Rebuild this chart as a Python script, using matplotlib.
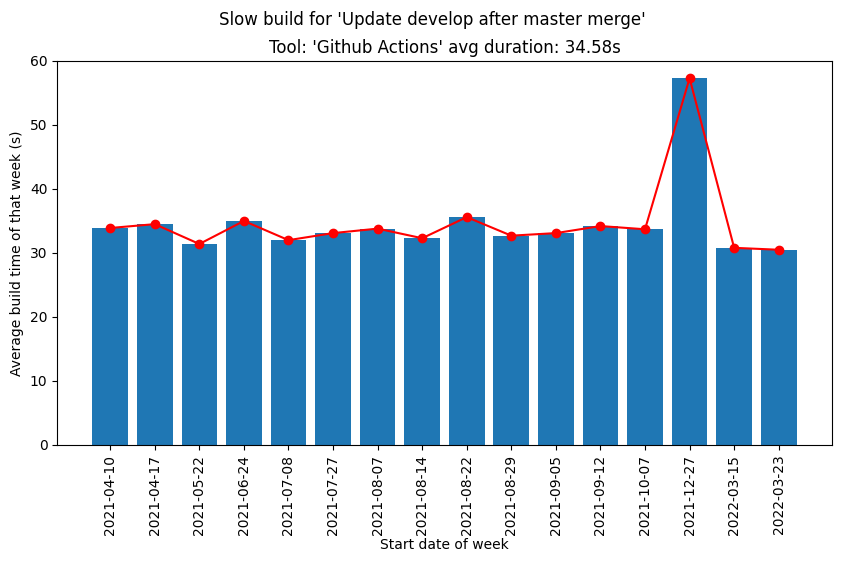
import matplotlib
matplotlib.use('Agg')
import matplotlib.pyplot as plt

# weekly average build times (s)
weeks = ['2021-04-10', '2021-04-17', '2021-05-22', '2021-06-24', '2021-07-08',
         '2021-07-27', '2021-08-07', '2021-08-14', '2021-08-22', '2021-08-29',
         '2021-09-05', '2021-09-12', '2021-10-07', '2021-12-27', '2022-03-15',
         '2022-03-23']
avg_times = [33.9, 34.5, 31.4, 35.0, 32.0, 33.1, 33.8, 32.3, 35.6, 32.7,
             33.1, 34.2, 33.7, 57.3, 30.8, 30.5]

fig, ax = plt.subplots(figsize=(8.41, 5.64), dpi=100)
fig.subplots_adjust(left=0.068, right=0.989, top=0.892, bottom=0.211)

ax.bar(weeks, avg_times)
ax.plot(weeks, avg_times, 'o-', color='red')

fig.suptitle("Slow build for 'Update develop after master merge'", x=0.514, y=0.981)
ax.set_title("Tool: 'Github Actions' avg duration: 34.58s")
ax.set_xlabel('Start date of week', labelpad=2)
ax.set_ylabel('Average build time of that week (s)')
ax.set_ylim(0, 60)
plt.xticks(rotation=90)

plt.savefig('out.png')
